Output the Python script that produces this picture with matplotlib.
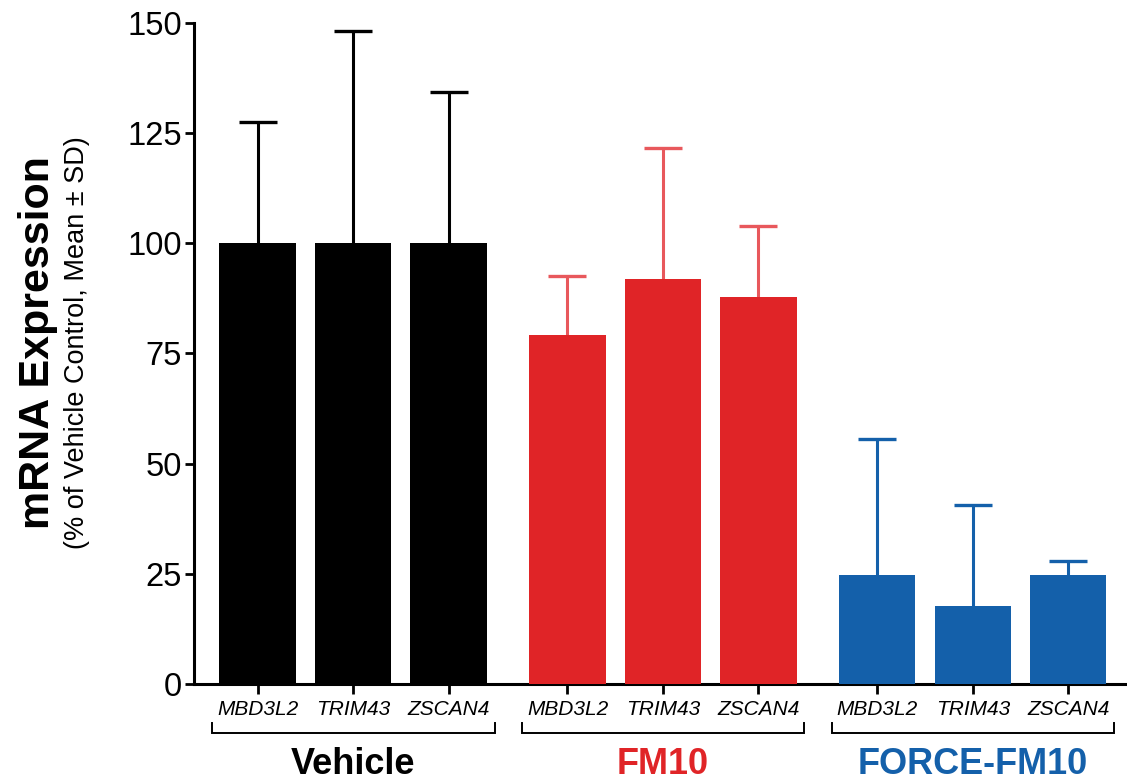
import numpy as np
import matplotlib
matplotlib.use('Agg')
from matplotlib import pyplot as plt
from matplotlib import transforms

#Data
genes = ['MBD3L2', 'TRIM43', 'ZSCAN4']
groups = ['Vehicle', 'FM10', 'FORCE-FM10']

vehicle_mean = [100, 100, 100]
vehicle_sd = [27.4, 48.1, 34.2]
fm10_mean = [79.1, 91.8, 87.8]
fm10_sd = [13.5, 29.8, 16.1]
force_mean = [24.7, 17.7, 24.7]
force_sd = [30.9, 23.0, 3.1]

means = [vehicle_mean, fm10_mean, force_mean]
sds = [vehicle_sd, fm10_sd, force_sd]

#Colours of bars, error bars and group titles
bar_colors = ['#000000', '#E02427', '#1460AA']
err_colors = ['#000000', '#E8585C', '#1460AA']
y_ticks = [0, 25, 50, 75, 100, 125, 150]

plt.rcParams['font.family'] = ['Liberation Sans', 'DejaVu Sans']

fig = plt.figure(figsize=(11.27, 7.81), dpi=100)
ax = fig.add_axes([194 / 1127, 97 / 781, 1 - 194 / 1127, 661.3 / 781])

group_step = 3.244
bar_w = 0.8
trans = transforms.blended_transform_factory(ax.transData, ax.transAxes)

all_pos = []
for g in range(len(groups)):
    pos = g * group_step + np.arange(len(genes))
    all_pos.extend(pos)
    m = np.array(means[g])
    s = np.array(sds[g])
    ax.bar(pos, m, width=bar_w, color=bar_colors[g], zorder=3)
    #upper error only: line plus a cap at the top
    ax.vlines(pos, m, m + s, color=err_colors[g], lw=2.2, zorder=2)
    ax.plot(pos, m + s, linestyle='none', marker='_', markersize=27.4,
            markeredgewidth=2.4, color=err_colors[g], zorder=2)

    #gene names under each bar
    for p, name in zip(pos, genes):
        ax.text(p, -0.0469, name, transform=trans, ha='center', va='baseline',
                fontsize=15, fontstyle='italic', clip_on=False)

    #bracket under the group
    x0 = pos[0] - 0.475
    x1 = pos[-1] + 0.48
    ax.plot([x0, x0, x1, x1], [-0.059, -0.0738, -0.0738, -0.059],
            transform=trans, color='black', lw=1.4, clip_on=False,
            solid_joinstyle='miter')

    #group title
    ax.text(pos[1], -0.1361, groups[g], transform=trans, ha='center',
            va='baseline', fontsize=26, fontweight='bold',
            color=bar_colors[g], clip_on=False)

ax.set_xlim(-0.667, 9.103)
ax.set_ylim(0, 150)
ax.set_yticks(y_ticks)
ax.set_xticks(all_pos)
ax.set_xticklabels([])

ax.spines['top'].set_visible(False)
ax.spines['right'].set_visible(False)
ax.spines['left'].set_linewidth(2.2)
ax.spines['bottom'].set_linewidth(2.2)
ax.tick_params(axis='y', length=6.5, width=2.0, labelsize=23.5, pad=2)
ax.tick_params(axis='x', length=7.2, width=2.0)

#y axis title and subtitle
fig.text(38 / 1127, 1 - 343 / 781, 'mRNA Expression', rotation=90,
         ha='center', va='center', fontsize=31, fontweight='bold')
fig.text(77 / 1127, 1 - 343 / 781, '(% of Vehicle Control, Mean ± SD)',
         rotation=90, ha='center', va='center', fontsize=19.5)

plt.savefig('out.png', dpi=100)
